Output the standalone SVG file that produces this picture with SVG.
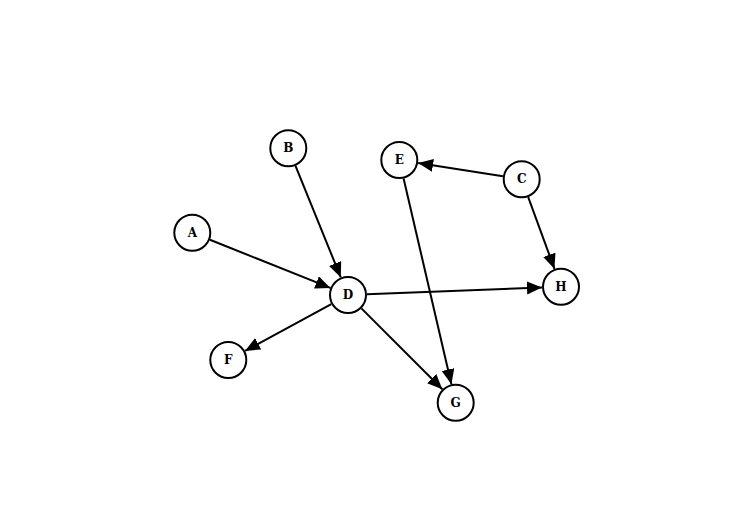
<svg xmlns="http://www.w3.org/2000/svg" width="738" height="528" viewBox="0 0 738 528">
<style>
.node circle{fill:#fff;stroke:#000;stroke-width:2}
.node text{font-family:"DejaVu Serif","Liberation Serif",serif;font-weight:bold;font-size:12px;text-anchor:middle;dominant-baseline:central;fill:#000}
.edges line{stroke:#000;stroke-width:2;marker-end:url(#arr)}
</style>
<defs>
<marker id="arr" markerUnits="userSpaceOnUse" markerWidth="16" markerHeight="14" refX="15" refY="6.5" orient="auto">
<path d="M0,0 L15,6.5 L0,13 z" fill="#000"/>
</marker>
</defs>
<rect width="738" height="528" fill="#fff"/>
<g id="edges" class="edges">
<line x1="209.9" y1="239.8" x2="330.4" y2="287.9"/>
<line x1="295.5" y1="165.9" x2="340.8" y2="277.4"/>
<line x1="502.9" y1="176.3" x2="418.1" y2="163.0"/>
<line x1="528.2" y1="197.1" x2="554.5" y2="268.9"/>
<line x1="367.0" y1="294.3" x2="542.0" y2="287.4"/>
<line x1="331.3" y1="304.1" x2="245.0" y2="350.9"/>
<line x1="361.4" y1="308.4" x2="442.3" y2="389.3"/>
<line x1="403.6" y1="178.5" x2="451.4" y2="384.2"/>
</g>
<g id="A" class="node"><circle cx="192.3" cy="232.7" r="18"/><text x="192.3" y="232.7">A</text></g>
<g id="B" class="node"><circle cx="288.3" cy="148.3" r="18"/><text x="288.3" y="148.3">B</text></g>
<g id="C" class="node"><circle cx="521.7" cy="179.3" r="18"/><text x="521.7" y="179.3">C</text></g>
<g id="D" class="node"><circle cx="348" cy="295" r="18"/><text x="348" y="295">D</text></g>
<g id="E" class="node"><circle cx="399.3" cy="160" r="18"/><text x="399.3" y="160">E</text></g>
<g id="F" class="node"><circle cx="228.3" cy="360" r="18"/><text x="228.3" y="360">F</text></g>
<g id="G" class="node"><circle cx="455.7" cy="402.7" r="18"/><text x="455.7" y="402.7">G</text></g>
<g id="H" class="node"><circle cx="561" cy="286.7" r="18"/><text x="561" y="286.7">H</text></g>
</svg>
